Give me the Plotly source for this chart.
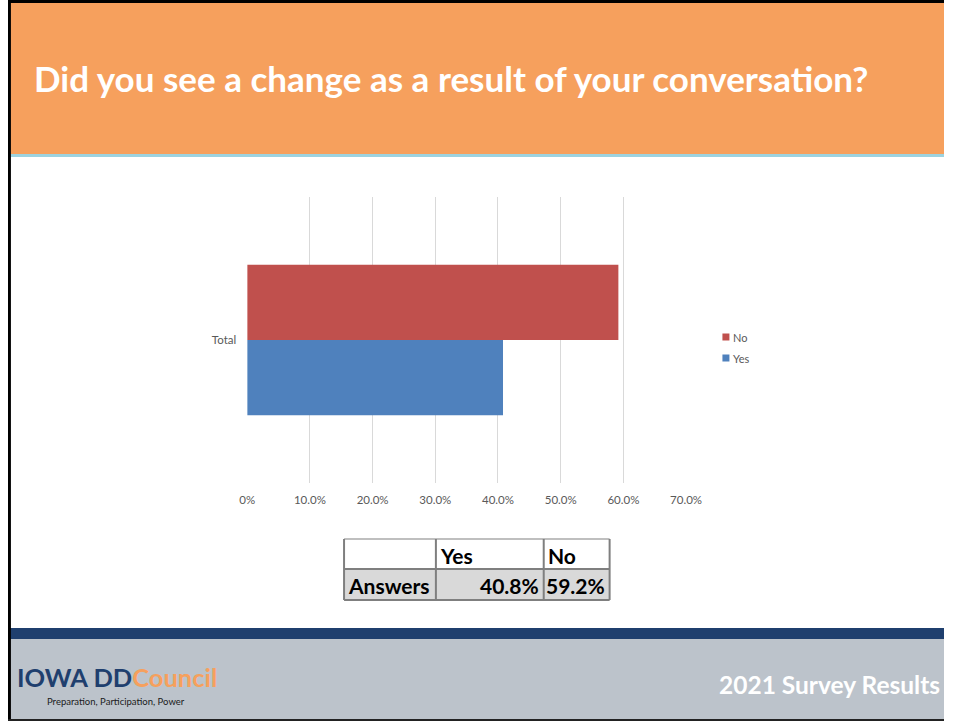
import plotly.graph_objects as go

# Survey answers (percent of respondents)
categories = ["Total"]
answer_labels = ["Yes", "No"]
yes_values = [40.8]
no_values = [59.2]
row_label = "Answers"

tick_values = [0, 10, 20, 30, 40, 50, 60, 70]
tick_labels = ["0%", "10.0%", "20.0%", "30.0%", "40.0%", "50.0%", "60.0%", "70.0%"]

title_text = "Did you see a change as a result of your conversation?"
footer_text = "2021 Survey Results"
tagline_text = "Preparation, Participation, Power"

W, H = 960, 721
FONT = "Lato"
BLUE = "#4F81BD"
RED = "#C0504D"
ORANGE = "#F6A05D"
NAVY = "#1F3F6E"
GREY_TXT = "#595959"
series_colors = {"Yes": BLUE, "No": RED}

# horizontal placement on the page: page_x = OFFSET_X + SCALE_X * layout_x
OFFSET_X, SCALE_X = 8.4, 0.9766


def lx(x):
    """Layout x (px) for a wanted on-page x (px)."""
    return (x - OFFSET_X) / SCALE_X


def px_x(x):
    return lx(x) / W


def px_y(y):
    return 1 - y / H


def paper_rect(x0, y0, x1, y1, fill, layer="below", raw=False):
    fx = (lambda v: v / W) if raw else px_x
    return dict(type="rect", xref="paper", yref="paper",
                x0=fx(x0), x1=fx(x1), y0=px_y(y1), y1=px_y(y0),
                fillcolor=fill, layer=layer, line=dict(width=0, color=fill))


def paper_line(x0, y0, x1, y1, color, width):
    return dict(type="line", xref="paper", yref="paper",
                x0=px_x(x0), x1=px_x(x1), y0=px_y(y0), y1=px_y(y1),
                line=dict(color=color, width=width), layer="above")


def paper_text(text, x, y, size, color="black", xanchor="left", bold=False, raw=False):
    return dict(text=f"<b>{text}</b>" if bold else text,
                x=(x / W) if raw else px_x(x), y=px_y(y),
                xref="paper", yref="paper", xanchor=xanchor, yanchor="middle",
                showarrow=False, font=dict(family=FONT, size=size, color=color))


fig = go.Figure()

fig.add_trace(go.Bar(
    name=answer_labels[0], y=categories, x=yes_values, orientation="h",
    marker=dict(color=BLUE, line=dict(width=0)), hoverinfo="x+name", showlegend=False,
))
fig.add_trace(go.Bar(
    name=answer_labels[1], y=categories, x=no_values, orientation="h",
    marker=dict(color=RED, line=dict(width=0)), hoverinfo="x+name", showlegend=False,
))

shapes = [
    # orange title band and its light-blue rule
    paper_rect(0, 0, W, 154, ORANGE, raw=True),
    paper_rect(0, 154, W, 157, "#9DD3E0", raw=True),
    # footer: navy rule and grey band
    paper_rect(0, 628, W, 639, NAVY, raw=True),
    paper_rect(0, 639, W, H, "#BCC3CB", raw=True),
    # black frame edges
    paper_rect(0, 0, W, 3, "black", layer="above", raw=True),
    paper_rect(0, 0, 3, H, "black", layer="above", raw=True),
    paper_rect(0, 719, W, H, "#222222", layer="above", raw=True),
]

annotations = [
    paper_text(title_text, 32, 78, 35, "white", bold=True),
    paper_text(footer_text, 958, 684, 24.5, "white", xanchor="right", bold=True, raw=True),
    dict(text=f"<b>IOWA DD<span style='color:{ORANGE}'>Council</span></b>",
         x=7 / W, y=px_y(677), xref="paper", yref="paper",
         xanchor="left", yanchor="middle", showarrow=False,
         font=dict(family=FONT, size=25.5, color=NAVY)),
    paper_text(tagline_text, 38, 701, 9.5, "#1a1a1a", raw=True),
]

# Legend keys (No above Yes)
legend_rows = [("No", 337), ("Yes", 358)]
for label, yc in legend_rows:
    shapes.append(paper_rect(724, yc - 3.5, 731, yc + 3.5, series_colors[label], layer="above"))
    annotations.append(paper_text(label, 733, yc, 11, GREY_TXT))

# Summary table under the chart
col_x = [345, 437, 545, 611]
row_y = [539, 569, 600]
shapes.append(paper_rect(col_x[0], row_y[1], col_x[3], row_y[2], "#D9D9D9"))
shapes.append(paper_line(col_x[0], row_y[0], col_x[3], row_y[0], "#BFBFBF", 2))
for yy in row_y[1:]:
    shapes.append(paper_line(col_x[0], yy, col_x[3], yy, "#7F7F7F", 2))
for xx in col_x:
    shapes.append(paper_line(xx, row_y[0], xx, row_y[2], "#7F7F7F", 2))

header_mid = (row_y[0] + row_y[1]) / 2 + 1
body_mid = (row_y[1] + row_y[2]) / 2 + 1
annotations.append(paper_text(answer_labels[0], col_x[1] + 2, header_mid, 21, bold=True))
annotations.append(paper_text(answer_labels[1], col_x[2] + 2, header_mid, 21, bold=True))
annotations.append(paper_text(row_label, col_x[0] + 2, body_mid, 21, bold=True))
annotations.append(paper_text(f"{yes_values[0]:.1f}%", col_x[2] - 3, body_mid, 21,
                              xanchor="right", bold=True))
annotations.append(paper_text(f"{no_values[0]:.1f}%", col_x[3] - 3, body_mid, 21,
                              xanchor="right", bold=True))

fig.update_layout(
    width=W, height=H,
    margin=dict(l=0, r=0, t=0, b=0),
    paper_bgcolor="white", plot_bgcolor="rgba(0,0,0,0)",
    barmode="group", bargap=0.473, bargroupgap=0,
    font=dict(family=FONT, size=11, color=GREY_TXT),
    showlegend=False,
    shapes=shapes,
    annotations=annotations,
    xaxis=dict(
        domain=[px_x(248), px_x(687.6)], range=[0, 70],
        tickvals=tick_values, ticktext=tick_labels,
        showgrid=True, gridcolor="#D9D9D9", gridwidth=1,
        zeroline=False, showline=False, ticks="",
        ticklabelstandoff=8,
        tickfont=dict(family=FONT, size=11.5, color=GREY_TXT),
        fixedrange=True,
    ),
    yaxis=dict(
        domain=[px_y(483), px_y(197)],
        showgrid=False, zeroline=False, showline=False, ticks="",
        ticklabelstandoff=10,
        tickfont=dict(family=FONT, size=11.5, color=GREY_TXT),
        fixedrange=True,
    ),
)

fig.write_html("out.html")
